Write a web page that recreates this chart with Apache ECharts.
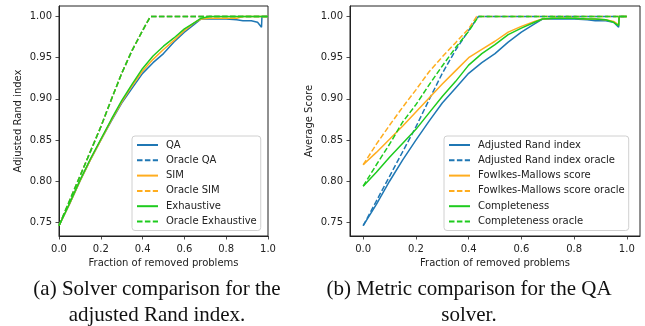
<!DOCTYPE html>
<html>
<head>
<meta charset="utf-8">
<script src="https://cdn.jsdelivr.net/npm/echarts@6/dist/echarts.min.js"></script>
<style>
html,body{margin:0;padding:0;background:#fff;}
#chart{width:645px;height:326px;}
</style>
</head>
<body>
<div id="chart"></div>
<script>
// ---- data ----
const xTicks = [0, 0.2, 0.4, 0.6, 0.8, 1.0];
const yTicks = [0.75, 0.80, 0.85, 0.90, 0.95, 1.00];

// shared x positions for the observed (solid) curves
const fracSolid = [0, 0.05, 0.1, 0.15, 0.2, 0.25, 0.3, 0.35, 0.4, 0.45, 0.5, 0.55, 0.6, 0.65, 0.68, 0.72, 0.75, 0.8, 0.85, 0.88, 0.92, 0.95, 0.969, 0.971, 1.0];
// (a) solver comparison, adjusted Rand index
const qaARI      = [0.746, 0.772, 0.800, 0.826, 0.850, 0.873, 0.895, 0.913, 0.931, 0.944, 0.955, 0.969, 0.981, 0.991, 0.997, 0.997, 0.997, 0.997, 0.996, 0.995, 0.995, 0.993, 0.987, 1.000, 1.000];
const simARI     = [0.746, 0.772, 0.800, 0.826, 0.850, 0.874, 0.896, 0.916, 0.934, 0.948, 0.960, 0.971, 0.983, 0.993, 0.997, 0.998, 0.998, 0.998, 0.998, 1.000, 1.000, 1.000, 1.000, 1.000, 1.000];
const exhARI     = [0.746, 0.773, 0.801, 0.827, 0.851, 0.875, 0.898, 0.918, 0.937, 0.952, 0.964, 0.974, 0.985, 0.993, 0.998, 1.000, 1.000, 1.000, 1.000, 1.000, 1.000, 1.000, 1.000, 1.000, 1.000];
// (b) metric comparison, QA solver
const qaFM       = [0.820, 0.835, 0.851, 0.867, 0.884, 0.901, 0.918, 0.934, 0.950, 0.960, 0.970, 0.981, 0.988, 0.994, 0.997, 0.998, 0.998, 0.998, 0.997, 0.997, 0.996, 0.994, 0.990, 1.000, 1.000];
const qaComp     = [0.794, 0.811, 0.829, 0.846, 0.863, 0.883, 0.903, 0.921, 0.941, 0.955, 0.966, 0.978, 0.986, 0.993, 0.997, 0.998, 0.998, 0.998, 0.997, 0.997, 0.996, 0.993, 0.989, 1.000, 1.000];

// oracle (dashed) curves
const fracOracle = [0, 0.05, 0.1, 0.15, 0.2, 0.25, 0.3, 0.35, 0.4, 0.437, 1.0];
const oracleQA   = [0.746, 0.776, 0.806, 0.836, 0.866, 0.899, 0.931, 0.959, 0.983, 1.000, 1.000];
const oracleSIM  = [0.746, 0.776, 0.806, 0.836, 0.866, 0.899, 0.931, 0.959, 0.983, 1.000, 1.000];
const oracleExh  = [0.746, 0.776, 0.806, 0.836, 0.866, 0.899, 0.931, 0.959, 0.983, 1.000, 1.000];
const fracOracleFM = [0, 0.05, 0.1, 0.15, 0.2, 0.25, 0.3, 0.35, 0.4, 0.43, 1.0];
const oracleFM   = [0.820, 0.845, 0.868, 0.890, 0.911, 0.933, 0.951, 0.968, 0.985, 1.000, 1.000];
const oracleComp = [0.794, 0.820, 0.845, 0.872, 0.893, 0.917, 0.940, 0.962, 0.982, 1.000, 1.000];

const legendA = ['QA', 'Oracle QA', 'SIM', 'Oracle SIM', 'Exhaustive', 'Oracle Exhaustive'];
const legendB = ['Adjusted Rand index', 'Adjusted Rand index oracle', 'Fowlkes-Mallows score', 'Fowlkes-Mallows score oracle', 'Completeness', 'Completeness oracle'];
const captionA = ['(a) Solver comparison for the', 'adjusted Rand index.'];
const captionB = ['(b) Metric comparison for the QA', 'solver.'];

// ---- build ----
const BLUE = '#1f77b4', ORANGE = '#ffad1f', GREEN = '#1ecb1e';
const DASH = [5.5, 2.4];
const pair = (xs, ys) => xs.map((x, i) => [x, ys[i]]);
function line(name, xs, ys, color, dashed, idx) {
  return {
    name, type: 'line', xAxisIndex: idx, yAxisIndex: idx,
    data: pair(xs, ys), symbol: 'none', showSymbol: false, silent: true,
    animation: false,
    lineStyle: { color, width: 1.5, type: dashed ? DASH : 'solid' },
    itemStyle: { color },
    emphasis: { disabled: true }
  };
}
const tickCol = '#222';
function xAx(idx, min, max) {
  return {
    type: 'value', gridIndex: idx, min, max,
    name: 'Fraction of removed problems', nameLocation: 'middle', nameGap: 21,
    nameTextStyle: { fontFamily: 'DejaVu Sans', fontSize: 10, color: tickCol },
    axisLine: { show: true, onZero: false, lineStyle: { color: tickCol, width: 1 } },
    axisTick: { show: true, length: 3.5, customValues: xTicks, lineStyle: { color: tickCol, width: 0.8 } },
    axisLabel: { customValues: xTicks, margin: 8, fontFamily: 'DejaVu Sans', fontSize: 10, color: tickCol,
      formatter: v => v.toFixed(1) },
    splitLine: { show: false }
  };
}
function yAx(idx, name) {
  return {
    type: 'value', gridIndex: idx, min: 0.7335, max: 1.0128,
    name, nameLocation: 'middle', nameGap: 36,
    nameTextStyle: { fontFamily: 'DejaVu Sans', fontSize: 10, color: tickCol },
    axisLine: { show: true, onZero: false, lineStyle: { color: tickCol, width: 1 } },
    axisTick: { show: true, length: 3.5, customValues: yTicks, lineStyle: { color: tickCol, width: 0.8 } },
    axisLabel: { customValues: yTicks, margin: 7, fontFamily: 'DejaVu Sans', fontSize: 10, color: tickCol,
      formatter: v => v.toFixed(2) },
    splitLine: { show: false }
  };
}
function leg(data, left, width) {
  return {
    data, orient: 'vertical', left, top: 136, width,
    itemWidth: 21, itemHeight: 10, itemGap: 5.3,
    padding: [4, 4, 4, 4], backgroundColor: '#fff', borderColor: '#d0d0d0', borderWidth: 1, borderRadius: 3,
    selectedMode: false,
    itemStyle: { opacity: 0, color: 'rgba(0,0,0,0)', borderColor: 'rgba(0,0,0,0)', borderWidth: 0 },
    textStyle: { fontFamily: 'DejaVu Sans', fontSize: 10, color: tickCol, lineHeight: 10, padding: [0, 0, 0, 3] }
  };
}
function cap(lines, cx) {
  return lines.map((t, i) => ({
    type: 'text', silent: true,
    x: cx, y: 289 + i * 26,
    style: { text: t, textAlign: 'center', textVerticalAlign: 'middle',
      font: '21px "Liberation Serif"', fill: '#111' }
  }));
}

const chart = echarts.init(document.getElementById('chart'), null, { renderer: 'canvas' });
chart.setOption({
  animation: false,
  backgroundColor: '#fff',
  grid: [
    { left: 59, top: 6, width: 209, height: 230, show: true, borderColor: tickCol, borderWidth: 1, backgroundColor: 'transparent' },
    { left: 350, top: 6, width: 290, height: 230, show: true, borderColor: tickCol, borderWidth: 1, backgroundColor: 'transparent' }
  ],
  xAxis: [xAx(0, 0, 1), xAx(1, -0.05, 1.05)],
  yAxis: [yAx(0, 'Adjusted Rand index'), yAx(1, 'Average Score')],
  legend: [leg(legendA, 132, 123), leg(legendB, 444, 182)],
  series: [
    line(legendA[0], fracSolid, qaARI, BLUE, false, 0),
    line(legendA[1], fracOracle, oracleQA, BLUE, true, 0),
    line(legendA[2], fracSolid, simARI, ORANGE, false, 0),
    line(legendA[3], fracOracle, oracleSIM, ORANGE, true, 0),
    line(legendA[4], fracSolid, exhARI, GREEN, false, 0),
    line(legendA[5], fracOracle, oracleExh, GREEN, true, 0),
    line(legendB[0], fracSolid, qaARI, BLUE, false, 1),
    line(legendB[1], fracOracle, oracleQA, BLUE, true, 1),
    line(legendB[2], fracSolid, qaFM, ORANGE, false, 1),
    line(legendB[3], fracOracleFM, oracleFM, ORANGE, true, 1),
    line(legendB[4], fracSolid, qaComp, GREEN, false, 1),
    line(legendB[5], fracOracle, oracleComp, GREEN, true, 1)
  ],
  graphic: cap(captionA, 157).concat(cap(captionB, 469))
});
</script>
</body>
</html>
